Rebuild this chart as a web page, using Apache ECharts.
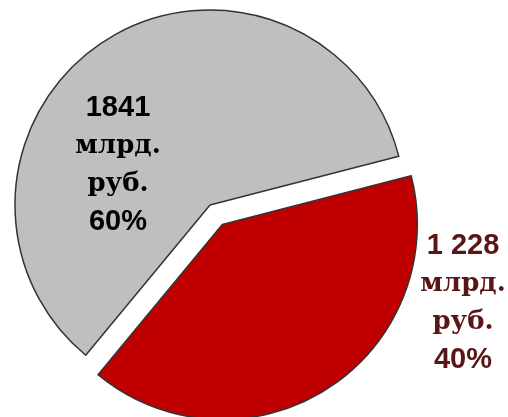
<!DOCTYPE html>
<html>
<head>
<meta charset="utf-8">
<script src="https://cdn.jsdelivr.net/npm/echarts@6/dist/echarts.min.js"></script>
<style>html,body{margin:0;padding:0;background:#fff}#c{width:508px;height:417px}</style>
</head>
<body>
<div id="c"></div>
<script>
var categories = ['Прочие', 'Выделенная часть'];
var values = [1841, 1228];
var valueLabels = ['1841', '1 228'];
var percentLabels = ['60%', '40%'];
var units = ['млрд.', 'руб.'];

var colors = ['#c0bfc0', '#c00000'];
var textColors = ['#000000', '#5a1616'];

var CX = 210, CY = 205, R = 195, START = 230.4, EXPLODE = 23;
var explodedIndex = 1;

// compute the explode direction for the highlighted slice from the data
var total = values.reduce(function (a, b) { return a + b; }, 0);
var before = 0;
for (var k = 0; k < explodedIndex; k++) before += values[k];
var midDeg = START - (before + values[explodedIndex] / 2) / total * 360;
var midRad = midDeg * Math.PI / 180;
var ox = EXPLODE * Math.cos(midRad), oy = -EXPLODE * Math.sin(midRad);

var labelAnchors = [[118, 165], [463, 303]];

function makeData(seriesFor) {
  return categories.map(function (c, i) {
    var visible = (i === explodedIndex) === (seriesFor === 'exploded');
    var d = { name: c, value: values[i] };
    if (!visible) {
      d.itemStyle = { color: 'rgba(0,0,0,0)', borderWidth: 0 };
      d.label = { show: false };
      return d;
    }
    d.itemStyle = { color: colors[i], borderColor: '#333333', borderWidth: 1.5 };
    d.label = {
      show: true,
      position: 'inside',
      formatter: '{n|' + valueLabels[i] + '}\n{u|' + units[0] + '}\n{u|' + units[1] + '}\n{n|' + percentLabels[i] + '}',
      rich: {
        n: { fontFamily: 'Liberation Sans', fontWeight: 'bold', fontSize: 29, lineHeight: 38, color: textColors[i], align: 'center' },
        u: { fontFamily: 'DejaVu Serif', fontWeight: 'bold', fontSize: 26, lineHeight: 38, color: textColors[i], align: 'center' }
      }
    };
    return d;
  });
}

function layoutFn(p) {
  var a = labelAnchors[p.dataIndex];
  return { x: a[0], y: a[1], align: 'center', verticalAlign: 'middle' };
}

var baseSeries = {
  type: 'pie',
  radius: R,
  startAngle: START,
  clockwise: true,
  silent: true,
  labelLine: { show: false },
  emphasis: { disabled: true },
  labelLayout: layoutFn
};

var chart = echarts.init(document.getElementById('c'));
chart.setOption({
  animation: false,
  series: [
    Object.assign({}, baseSeries, { center: [CX, CY], data: makeData('base') }),
    Object.assign({}, baseSeries, { center: [CX + ox, CY + oy], data: makeData('exploded') })
  ]
});
</script>
</body>
</html>
